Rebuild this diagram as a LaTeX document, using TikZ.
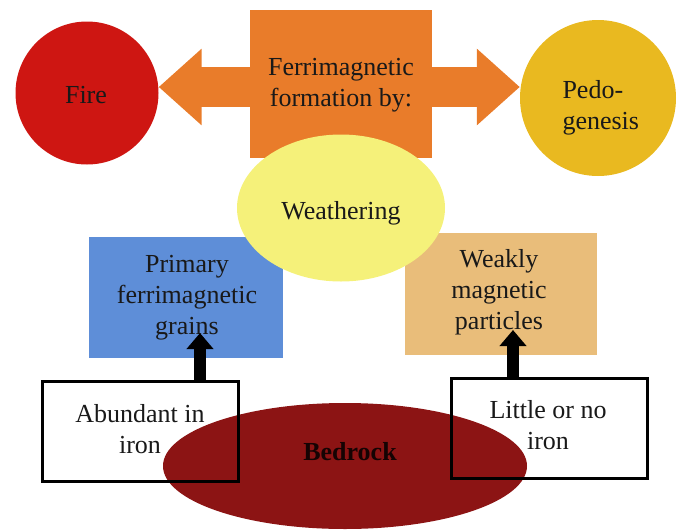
\documentclass[tikz,border=0pt]{standalone}
\usepackage{fontspec}
\setmainfont{Liberation Serif}
\usetikzlibrary{shapes.geometric,arrows.meta}
\definecolor{firered}{RGB}{206,22,18}
\definecolor{ferriorange}{RGB}{233,124,42}
\definecolor{pedoyellow}{RGB}{233,185,32}
\definecolor{weathyellow}{RGB}{245,241,122}
\definecolor{primblue}{RGB}{94,142,216}
\definecolor{weaktan}{RGB}{233,189,122}
\definecolor{bedred}{RGB}{140,20,20}
\definecolor{inkblack}{RGB}{25,25,25}
\tikzset{
  txt/.style={font=\fontsize{26}{31}\selectfont, text=inkblack, align=center},
  roundnode/.style={circle, inner sep=0pt, txt},
  colbox/.style={rectangle, inner sep=0pt, txt},
  framebox/.style={rectangle, inner sep=0pt, minimum width=196pt, minimum height=100pt},
  bigarrow/.style={ferriorange, line width=40pt, -{Triangle[width=74pt,length=43pt]}},
  blackarrow/.style={black, line width=12pt, -{Triangle[width=26pt,length=16pt]}}
}
\begin{document}
\begin{tikzpicture}[x=1pt,y=-1pt]
\useasboundingbox (0,0) rectangle (681,531);
% top row
\node[colbox, fill=ferriorange, minimum width=182pt, minimum height=148pt] (ferri) at (341,84) {};
\node[txt] (ferritxt) at (341,85) {Ferrimagnetic\\formation by:};
\node[roundnode, fill=firered, minimum size=143pt] (fire) at (87,93) {};
\node[txt] (firetxt) at (86,95) {Fire};
\node[roundnode, fill=pedoyellow, minimum size=156pt] (pedo) at (598,98) {};
\node[txt, align=left, anchor=west] (pedotxt) at (559,108) {Pedo-\\genesis};
\coordinate (lstart) at (251,87);
\coordinate (rstart) at (431,87);
\draw[bigarrow] (lstart) -- (fire.east |- lstart);
\draw[bigarrow] (rstart) -- (pedo.west |- rstart);
% middle row
\node[colbox, fill=primblue, minimum width=194pt, minimum height=121pt] (prim) at (186,297) {};
\node[txt] (primtxt) at (187,298) {Primary\\ferrimagnetic\\grains};
\node[colbox, fill=weaktan, minimum width=192pt, minimum height=122pt] (weak) at (501,294) {};
\node[txt] (weaktxt) at (499,292) {Weakly\\magnetic\\particles};
\node[ellipse, fill=weathyellow, inner sep=0pt, minimum width=208pt, minimum height=147pt] (weath) at (341,208) {};
\node[txt] (weathtxt) at (341,213) {Weathering};
% bottom row
\node[framebox, fill=white] (abundfill) at (140,431) {};
\node[framebox, fill=white] (littlefill) at (549,428) {};
\node[ellipse, fill=bedred, inner sep=0pt, minimum width=364pt, minimum height=126pt] (bed) at (345,466) {};
\node[txt, font=\fontsize{26}{31}\selectfont\bfseries, text=black!85!bedred] (bedtxt) at (350,452) {Bedrock};
\node[framebox, draw=black, line width=3pt] (abund) at (140,431) {};
\node[framebox, draw=black, line width=3pt] (little) at (549,428) {};
\node[txt] (abundtxt) at (140,429) {Abundant in\\iron};
\node[txt] (littletxt) at (548,425) {Little or no\\iron};
% black arrows
\coordinate (ltip) at (200,333);
\coordinate (rtip) at (513,330);
\draw[blackarrow] (abund.north -| ltip) -- (ltip);
\draw[blackarrow] (little.north -| rtip) -- (rtip);
\end{tikzpicture}
\end{document}
